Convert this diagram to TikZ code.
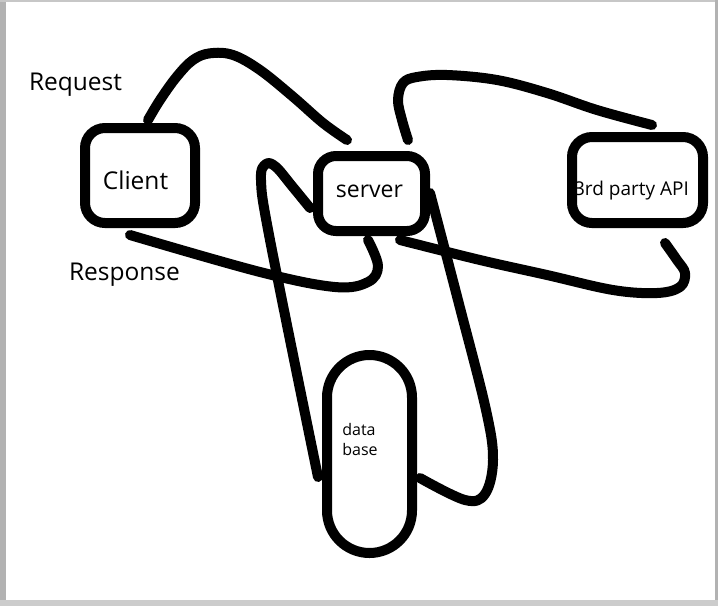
\documentclass[tikz,border=0pt]{standalone}
\usepackage{fontspec}
\setmainfont{Open Sans}
\begin{document}
\begin{tikzpicture}[x=1pt,y=-1pt,
  box/.style={draw=black, line width=10pt, inner sep=0pt, outer sep=0pt},
  wire/.style={draw=black, line width=10pt, line cap=round, line join=round},
  lbl/.style={inner sep=0pt, outer sep=0pt, text=black},
  bigtext/.style={font=\fontsize{24.5pt}{29pt}\selectfont},
  frame/.style={fill=black!30, draw=none}]
\useasboundingbox (0,0) rectangle (718,606);
\fill[white] (0,0) rectangle (718,606);
% window frame
\fill[frame] (0,0) rectangle (6,606);
\fill[black!22] (0,0) rectangle (718,1.5);
\fill[frame] (715,0) rectangle (718,606);
\fill[black!20] (0,600) rectangle (718,606);

% boxes
\node[box, rounded corners=20pt, minimum width=110pt, minimum height=95pt] (client) at (140,175.5) {};
\node[box, rounded corners=18pt, minimum width=107pt, minimum height=75pt] (server) at (371.5,193.5) {};
\node[box, rounded corners=20pt, minimum width=131pt, minimum height=86pt] (api) at (637.5,180) {};
\node[box, rounded corners=42.5pt, minimum width=85pt, minimum height=198pt] (db) at (369.5,454) {};

% labels inside boxes
\node[lbl, bigtext, anchor=base] (clientlbl) at (135.5,189) {Client};
\node[lbl, font=\fontsize{23pt}{28pt}\selectfont, anchor=base] (serverlbl) at (369.5,197) {server};
\node[lbl, font=\fontsize{19pt}{23pt}\selectfont, anchor=base] (apilbl) at (631.5,195) {3rd party API};
\node[lbl, font=\fontsize{16pt}{20pt}\selectfont, align=left, anchor=center] (dblbl) at (360,439) {data\\base};

% free labels
\node[lbl, bigtext, anchor=base west] (request) at (29,90) {Request};
\node[lbl, bigtext, anchor=base west] (response) at (69,280) {Response};

% connector ends
\coordinate (reqA) at ([shift={(8,-8)}]client.north);
\coordinate (reqB) at ([shift={(-24.5,-16)}]server.north);
\coordinate (respA) at ([shift={(-10,12)}]client.south);
\coordinate (respB) at ([shift={(-3.5,9)}]server.south);
\coordinate (lA) at ([shift={(-8,14.5)}]server.west);
\coordinate (lB) at ([shift={(-9,23)}]db.west);
\coordinate (rA) at ([shift={(5,-0.5)}]server.east);
\coordinate (rB) at ([shift={(8,24)}]db.east);
\coordinate (tA) at ([shift={(36.5,-16)}]server.north);
\coordinate (tB) at ([shift={(14.5,-12)}]api.north);
\coordinate (bA) at ([shift={(28.5,9)}]server.south);
\coordinate (bB) at ([shift={(27.5,20)}]api.south);

% connectors
\draw[wire] plot[smooth, tension=0.6] coordinates {(reqA) (160,100) (176.7,76.7) (193,60) (210,53.3) (233,55) (260,70) (293,96.7) (323,123) (reqB)};
\draw[wire] plot[smooth, tension=0.6] coordinates {(respA) (260,272) (335,287) (368,282) (378,266) (respB)};
\draw[wire] plot[smooth, tension=0.6] coordinates {(lA) (292,186) (276,167) (266,164) (261,180) (270,240) (lB)};
\draw[wire] plot[smooth, tension=0.6] coordinates {(rA) (459,304) (486,410) (493,460) (485,494) (465,500) (rB)};
\draw[wire] plot[smooth, tension=0.6] coordinates {(tA) (402,120) (398,100) (403,83) (417,77) (447,75) (497,80) (547,93) (597,110) (tB)};
\draw[wire] plot[smooth, tension=0.6] coordinates {(bA) (480,260) (547,275) (613,290) (657,293) (680,287) (685,273) (677,260) (bB)};
\end{tikzpicture}
\end{document}
